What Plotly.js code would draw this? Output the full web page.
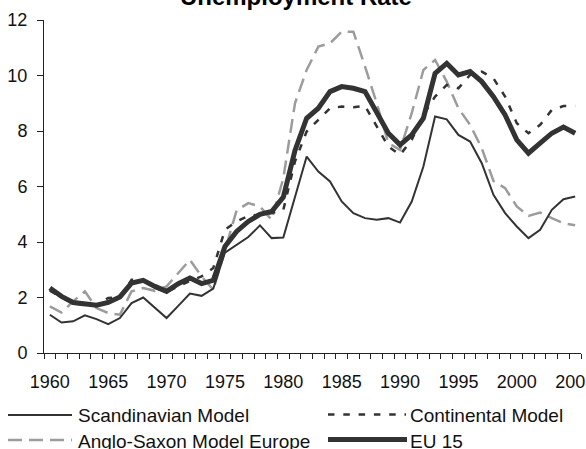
<!DOCTYPE html>
<html>
<head>
<meta charset="utf-8">
<script src="https://cdn.plot.ly/plotly-3.0.1.min.js"></script>
<style>html,body{margin:0;padding:0;background:#fff;}#chart{width:586px;height:449px;}</style>
</head>
<body>
<div id="chart"></div>
<script>
const years = [];
for (let y = 1960; y <= 2005; y++) years.push(y);

const tickYears = [1960, 1965, 1970, 1975, 1980, 1985, 1990, 1995, 2000, 2005];
const tickLabels = ["1960", "1965", "1970", "1975", "1980", "1985", "1990", "1995", "2000", "2005"];

const scandinavian = [1.38, 1.10, 1.14, 1.36, 1.22, 1.04, 1.26, 1.80, 2.00, 1.63,
  1.26, 1.70, 2.14, 2.06, 2.32, 3.62, 3.90, 4.18, 4.60, 4.14,
  4.16, 5.60, 7.08, 6.54, 6.18, 5.46, 5.04, 4.86, 4.80, 4.86,
  4.70, 5.46, 6.72, 8.52, 8.42, 7.86, 7.62, 6.84, 5.70, 5.04,
  4.56, 4.14, 4.44, 5.16, 5.54, 5.64];

const continental = [2.25, 2.00, 1.80, 1.72, 1.72, 1.98, 2.00, 2.64, 2.62, 2.35,
  2.20, 2.40, 2.60, 2.76, 3.06, 4.44, 4.74, 4.94, 4.98, 5.04,
  5.16, 6.90, 7.98, 8.40, 8.82, 8.88, 8.86, 8.90, 8.16, 7.44,
  7.14, 7.68, 8.58, 9.24, 9.66, 9.54, 10.02, 10.14, 9.90, 9.24,
  8.28, 7.92, 8.22, 8.76, 8.90, 8.90];

const angloSaxon = [1.68, 1.46, 1.86, 2.22, 1.62, 1.44, 1.38, 2.22, 2.34, 2.24,
  2.40, 2.88, 3.36, 2.76, 2.28, 3.70, 5.14, 5.40, 5.28, 4.80,
  6.30, 9.00, 10.20, 11.04, 11.16, 11.58, 11.58, 10.32, 9.00, 7.56,
  7.32, 8.64, 10.20, 10.56, 9.78, 8.82, 8.22, 7.38, 6.20, 5.94,
  5.28, 4.94, 5.06, 4.86, 4.68, 4.60];

const eu15 = [2.34, 2.04, 1.82, 1.78, 1.72, 1.82, 2.02, 2.52, 2.62, 2.40,
  2.22, 2.50, 2.70, 2.50, 2.62, 3.84, 4.38, 4.74, 5.00, 5.10,
  5.62, 7.30, 8.46, 8.82, 9.42, 9.60, 9.54, 9.42, 8.64, 7.92,
  7.50, 7.86, 8.46, 10.08, 10.44, 10.02, 10.14, 9.78, 9.24, 8.58,
  7.68, 7.20, 7.56, 7.92, 8.14, 7.92];

const seriesNames = ["Scandinavian Model", "Continental Model", "Anglo-Saxon Model Europe", "EU 15"];

const DARK = "#333333", GREY = "#9c9c9c";
const styles = [
  {color: DARK, width: 2, dash: "solid"},
  {color: DARK, width: 2.5, dash: "6.5px,8.8px"},
  {color: GREY, width: 2.5, dash: "14px,7px"},
  {color: DARK, width: 5, dash: "solid"}
];
const seriesData = [scandinavian, continental, angloSaxon, eu15];
const drawOrder = [2, 0, 1, 3];

const traces = drawOrder.map(i => ({
  type: "scatter", mode: "lines", x: years, y: seriesData[i], name: seriesNames[i],
  line: {color: styles[i].color, width: styles[i].width, dash: styles[i].dash},
  showlegend: false, hoverinfo: "skip"
}));

// plot-area geometry (pixels)
const W = 586, H = 449, L = 44, R = 5, T = 20, B = 96;
const PW = W - L - R, PH = H - T - B;
const px = x => (x - L) / PW;
const py = y => 1 - (y - T) / PH;

// custom legend (two columns, two rows)
const legendItems = [
  {s: 0, x0: 8, x1: 72, tx: 77, ly: 415, ty: 415},
  {s: 1, x0: 328, x1: 406, tx: 409, ly: 414.5, ty: 415},
  {s: 2, x0: 8, x1: 72, tx: 77, ly: 440, ty: 441},
  {s: 3, x0: 328, x1: 407, tx: 409, ly: 439.5, ty: 441}
];
const shapes = legendItems.map(it => ({
  type: "line", xref: "paper", yref: "paper",
  x0: px(it.x0), x1: px(it.x1), y0: py(it.ly), y1: py(it.ly),
  line: {color: styles[it.s].color, width: styles[it.s].width, dash: styles[it.s].dash}
}));
const annotations = legendItems.map(it => ({
  xref: "paper", yref: "paper", x: px(it.tx), y: py(it.ty),
  xanchor: "left", yanchor: "middle", showarrow: false,
  text: seriesNames[it.s], font: {family: "Liberation Sans, Arial, sans-serif", size: 19, color: "#111"},
  borderpad: 0
}));

const layout = {
  width: W, height: H,
  margin: {l: L, r: R, t: T, b: B, pad: 0},
  paper_bgcolor: "#fff", plot_bgcolor: "#fff",
  font: {family: "Liberation Sans, Arial, sans-serif", size: 18, color: "#111"},
  title: {
    text: "Unemployment Rate",
    font: {family: "Liberation Sans, Arial, sans-serif", size: 24, color: "#000", weight: 700},
    xref: "container", x: 0.505, xanchor: "center",
    yref: "container", y: 1 - 5 / H, yanchor: "bottom"
  },
  xaxis: {
    range: [1959.5, 2005.5], tickmode: "array", tickvals: tickYears, ticktext: tickLabels,
    ticks: "", showline: true, linecolor: "#222", linewidth: 1, showgrid: false, zeroline: false,
    ticklabelstandoff: 12, ticklabeloverflow: "allow",
    minor: {ticks: "outside", ticklen: 5, tickwidth: 1, tickcolor: "#222", tickmode: "linear", tick0: 1959.5, dtick: 1, showgrid: false},
    fixedrange: true
  },
  yaxis: {
    range: [0, 12], tickmode: "array", tickvals: [0, 2, 4, 6, 8, 10, 12],
    ticks: "outside", ticklen: 6, tickwidth: 1, tickcolor: "#222",
    showline: true, linecolor: "#222", linewidth: 1, showgrid: false, zeroline: false,
    ticklabelstandoff: 6, fixedrange: true
  },
  shapes: shapes, annotations: annotations,
  showlegend: false, hovermode: false
};

Plotly.newPlot("chart", traces, layout, {displayModeBar: false, staticPlot: true});
</script>
</body>
</html>
